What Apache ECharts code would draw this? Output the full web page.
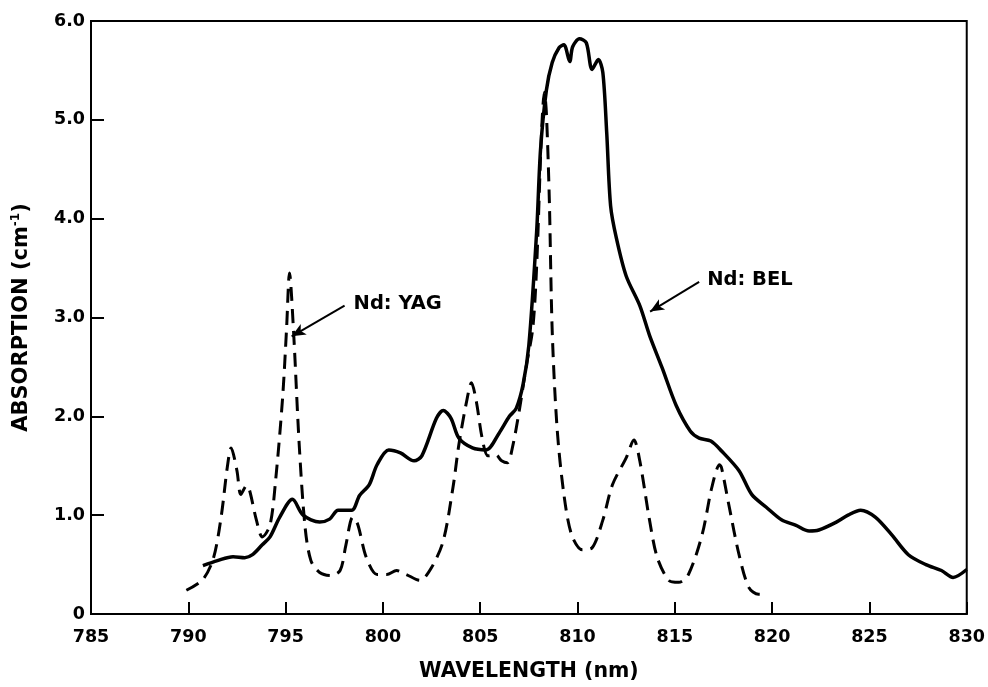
<!DOCTYPE html>
<html>
<head>
<meta charset="utf-8">
<script src="https://cdn.jsdelivr.net/npm/echarts@6/dist/echarts.min.js"></script>
<style>html,body{margin:0;padding:0;background:#fff}#c{width:988px;height:687px}</style>
</head>
<body>
<div id="c"></div>
<script>
// Nd:BEL (solid)
var belX = [790.75,791.5,792.3,792.9,793.3,793.8,794.2,794.7,795.35,795.9,796.75,797.26,797.7,798.4,798.8,799.3,799.7,800.3,800.9,801.6,802.0,802.75,803.1,803.5,803.9,804.6,805.3,805.97,806.5,806.85,807.2,807.5,807.9,808.1,808.4,808.7,809.05,809.3,809.6,809.75,810.1,810.45,810.75,811.07,811.3,811.5,811.7,812.0,812.5,813.2,813.7,814.35,815.07,815.8,816.25,816.85,817.4,818.3,818.95,819.7,820.5,821.2,821.9,822.4,823.3,823.9,824.55,825.3,826.15,827.0,827.9,828.7,829.3,830.0];
var belY = [0.49,0.54,0.58,0.57,0.60,0.70,0.78,0.98,1.16,1.0,0.93,0.96,1.05,1.05,1.2,1.31,1.51,1.66,1.63,1.55,1.6,1.98,2.06,1.98,1.78,1.68,1.66,1.83,2.0,2.08,2.32,2.72,3.87,4.7,5.3,5.58,5.73,5.76,5.59,5.74,5.82,5.78,5.51,5.61,5.48,4.87,4.13,3.8,3.42,3.12,2.82,2.49,2.11,1.85,1.78,1.75,1.65,1.45,1.21,1.08,0.95,0.9,0.84,0.85,0.93,1.0,1.05,0.98,0.8,0.6,0.5,0.44,0.37,0.45];
// Nd:YAG (dashed)
var yagX = [789.9,790.75,791.3,791.7,792.0,792.2,792.5,792.7,793.0,793.15,793.5,793.8,794.2,794.5,794.85,795.05,795.2,795.4,795.7,796.0,796.3,796.75,797.3,797.8,798.1,798.45,798.7,799.15,799.7,800.2,800.7,801.2,801.9,802.5,803.1,803.6,803.9,804.3,804.55,804.8,805.1,805.4,805.8,806.1,806.4,806.65,807.0,807.35,807.7,807.9,808.15,808.3,808.4,808.55,808.7,808.95,809.3,809.7,810.25,810.75,811.3,811.8,812.5,812.9,813.2,813.7,814.1,814.7,815.2,815.7,816.4,816.9,817.3,817.4,817.8,818.3,818.8,819.3,819.7];
var yagY = [0.24,0.35,0.57,1.0,1.48,1.68,1.45,1.21,1.3,1.25,0.95,0.78,0.9,1.38,2.2,2.89,3.45,2.89,1.71,0.88,0.54,0.42,0.39,0.44,0.7,0.98,0.91,0.57,0.4,0.4,0.44,0.4,0.34,0.47,0.74,1.28,1.71,2.15,2.34,2.15,1.78,1.6,1.61,1.55,1.53,1.68,2.05,2.49,2.89,3.52,4.87,5.28,5.07,4.2,2.86,1.88,1.21,0.8,0.65,0.67,0.95,1.31,1.58,1.76,1.55,0.95,0.57,0.34,0.32,0.4,0.8,1.28,1.51,1.48,1.08,0.6,0.27,0.2,0.2];
var xTicks = [785,790,795,800,805,810,815,820,825,830];
var yTicks = [0,1,2,3,4,5,6];
var yagLabel = 'Nd: YAG', belLabel = 'Nd: BEL';
var yagArrow = [[798.03,3.12],[795.31,2.81]];
var belArrow = [[816.25,3.36],[813.73,3.06]];

function pairs(xs, ys){ return xs.map(function(x,i){ return [x, ys[i]]; }); }
var FONT = 'DejaVu Sans';
var chart = echarts.init(document.getElementById('c'), null, {renderer:'canvas'});
function arrowLine(pts){
  return {
    silent:true, animation:false,
    symbol:['none','arrow'], symbolSize:[9,14],
    lineStyle:{color:'#000', width:2, type:'solid'},
    label:{show:false},
    data:[[{coord:pts[0]},{coord:pts[1]}]]
  };
}
var option = {
  animation:false,
  backgroundColor:'#fff',
  grid:{left:91, right:20, top:21, bottom:70, show:true, borderColor:'#000', borderWidth:2, backgroundColor:'transparent'},
  xAxis:{
    type:'value', min:xTicks[0], max:xTicks[xTicks.length-1], interval:5,
    name:'WAVELENGTH (nm)', nameLocation:'middle', nameGap:47,
    nameTextStyle:{fontFamily:FONT, fontWeight:'bold', fontSize:20.5, color:'#000'},
    axisLine:{show:true, lineStyle:{color:'#000', width:2}},
    axisTick:{show:true, inside:true, length:12, lineStyle:{color:'#000', width:2}},
    axisLabel:{fontFamily:FONT, fontWeight:'bold', fontSize:17.5, color:'#000', margin:14},
    splitLine:{show:false}
  },
  yAxis:{
    type:'value', min:yTicks[0], max:yTicks[yTicks.length-1], interval:1,
    name:'{a|ABSORPTION (cm}{s|-1}{a|)}', nameLocation:'middle', nameGap:57,
    nameTextStyle:{fontFamily:FONT, fontWeight:'bold', fontSize:21, color:'#000',
      rich:{a:{fontFamily:FONT, fontWeight:'bold', fontSize:21, color:'#000', lineHeight:24},
            s:{fontFamily:FONT, fontWeight:'bold', fontSize:12, color:'#000', verticalAlign:'top', lineHeight:24, padding:[0,0,10,0]}}},
    axisLine:{show:true, lineStyle:{color:'#000', width:2}},
    axisTick:{show:true, inside:true, length:13, lineStyle:{color:'#000', width:2}},
    axisLabel:{fontFamily:FONT, fontWeight:'bold', fontSize:17.5, color:'#000', margin:6,
      formatter:function(v){ return v===0 ? '0' : v.toFixed(1); }},
    splitLine:{show:false}
  },
  series:[
    {type:'line', name:'Nd: BEL', data:pairs(belX, belY), showSymbol:false, smooth:0.3,
     lineStyle:{color:'#000', width:3.5}, z:3, markLine:arrowLine(belArrow)},
    {type:'line', name:'Nd: YAG', data:pairs(yagX, yagY), showSymbol:false, smooth:0.3,
     lineStyle:{color:'#000', width:3, type:[14,8]}, z:2, markLine:arrowLine(yagArrow)}
  ]
};
chart.setOption(option);
var p1 = chart.convertToPixel({gridIndex:0}, yagArrow[0]);
var p2 = chart.convertToPixel({gridIndex:0}, belArrow[0]);
chart.setOption({graphic:[
  {type:'text', left:p1[0]+9, top:p1[1]-12, style:{text:yagLabel, fontFamily:FONT, fontWeight:'bold', fontSize:19.5, fill:'#000'}},
  {type:'text', left:p2[0]+8, top:p2[1]-12, style:{text:belLabel, fontFamily:FONT, fontWeight:'bold', fontSize:19.5, fill:'#000'}}
]});
</script>
</body>
</html>
